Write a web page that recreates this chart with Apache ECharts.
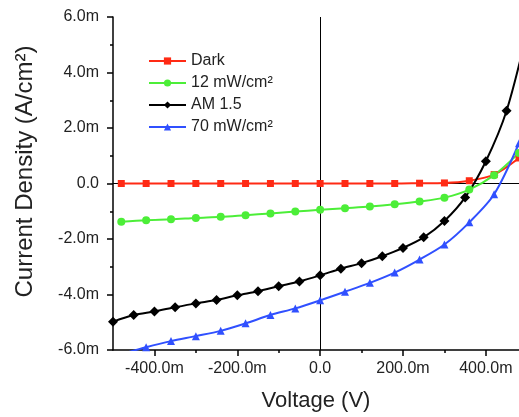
<!DOCTYPE html>
<html>
<head>
<meta charset="utf-8">
<script src="https://cdn.jsdelivr.net/npm/echarts@6/dist/echarts.min.js"></script>
<style>
  html, body { margin: 0; padding: 0; background: #fff; }
  #chart { width: 519px; height: 417px; }
</style>
</head>
<body>
<div id="chart"></div>
<script>
// voltage (V) for the 0.06 V sweeps (Dark, 12 mW, 70 mW)
var voltsA = [-0.48, -0.42, -0.36, -0.30, -0.24, -0.18, -0.12, -0.06, 0.00,
              0.06, 0.12, 0.18, 0.24, 0.30, 0.36, 0.42, 0.48];
// voltage (V) for the AM 1.5 sweep (0.05 V steps)
var voltsB = [-0.50, -0.45, -0.40, -0.35, -0.30, -0.25, -0.20, -0.15, -0.10, -0.05, 0.00,
              0.05, 0.10, 0.15, 0.20, 0.25, 0.30, 0.35, 0.40, 0.45, 0.50];

// current density in mA/cm2
var dark = [0, 0, 0, 0, 0, 0, 0, 0, 0, 0, 0, 0, 0.01, 0.02, 0.10, 0.32, 0.92];
var low12 = [-1.38, -1.32, -1.29, -1.24, -1.20, -1.14, -1.08, -1.01, -0.95,
             -0.89, -0.83, -0.75, -0.65, -0.51, -0.22, 0.30, 1.10];
var am15 = [-4.98, -4.74, -4.61, -4.46, -4.32, -4.20, -4.03, -3.88, -3.70, -3.53, -3.31,
            -3.07, -2.87, -2.62, -2.32, -1.94, -1.35, -0.50, 0.80, 2.62, 5.5];
var high70 = [-6.15, -5.90, -5.68, -5.50, -5.31, -5.04, -4.74, -4.50, -4.21,
              -3.90, -3.58, -3.21, -2.74, -2.20, -1.40, -0.39, 1.45];

var names = ['Dark', '12 mW/cm²', 'AM 1.5', '70 mW/cm²'];
var xMajor = [-0.4, -0.2, 0, 0.2, 0.4];
var xMinor = [-0.3, -0.1, 0.1, 0.3];

function pairs(xs, ys) {
    var out = [];
    for (var i = 0; i < xs.length; i++) out.push([xs[i], ys[i]]);
    return out;
}

var font = 'Liberation Sans, Arial, sans-serif';
var chart = echarts.init(document.getElementById('chart'));

function lineSeries(name, xs, ys, color, symbol, size) {
    return {
        name: name,
        type: 'line',
        xAxisIndex: 0,
        data: pairs(xs, ys),
        smooth: 0.3,
        symbol: symbol,
        symbolSize: size,
        showAllSymbol: true,
        clip: true,
        lineStyle: { color: color, width: 2 },
        itemStyle: { color: color },
        emphasis: { disabled: true },
        z: 3
    };
}

var series = [
    lineSeries(names[0], voltsA, dark, '#ff2a14', 'rect', 7),
    lineSeries(names[1], voltsA, low12, '#4cee38', 'circle', 8),
    lineSeries(names[2], voltsB, am15, '#000000', 'diamond', 10),
    lineSeries(names[3], voltsA, high70, '#3050ff', 'triangle', 8)
];
// zero lines
series[0].markLine = {
    silent: true,
    symbol: 'none',
    label: { show: false },
    lineStyle: { color: '#000', width: 1, type: 'solid' },
    data: [{ xAxis: 0 }, { yAxis: 0 }],
    z: 1
};

var option = {
    animation: false,
    backgroundColor: '#ffffff',
    textStyle: { fontFamily: font },
    grid: { left: 113, right: 0, top: 17, bottom: 65 },
    legend: {
        orient: 'vertical',
        left: 148,
        top: 53,
        padding: 0,
        itemWidth: 37,
        itemHeight: 9,
        itemGap: 6,
        data: names,
        textStyle: { fontSize: 16, color: '#222', fontFamily: font }
    },
    xAxis: [{
        type: 'value',
        min: -0.5,
        max: 0.48,
        name: 'Voltage (V)',
        nameLocation: 'middle',
        nameGap: 40,
        nameTextStyle: { fontSize: 22, color: '#222', fontFamily: font },
        splitLine: { show: false },
        axisLine: { onZero: false, lineStyle: { color: '#000', width: 1.5 } },
        axisTick: { customValues: xMajor, length: 6, lineStyle: { color: '#000', width: 1.5 } },
        axisLabel: {
            customValues: xMajor,
            margin: 11,
            fontSize: 16,
            color: '#222',
            formatter: function (v) {
                return v === 0 ? '0.0' : (v * 1000).toFixed(1) + 'm';
            }
        }
    }, {
        type: 'value',
        position: 'bottom',
        min: -0.5,
        max: 0.48,
        splitLine: { show: false },
        axisLine: { show: false, onZero: false },
        axisTick: { customValues: xMinor, length: 3, lineStyle: { color: '#000', width: 1.5 } },
        axisLabel: { show: false }
    }],
    yAxis: {
        type: 'value',
        min: -6,
        max: 6,
        interval: 2,
        name: 'Current Density (A/cm²)',
        nameLocation: 'middle',
        nameGap: 76,
        nameTextStyle: { fontSize: 24, color: '#222', fontFamily: font, padding: [0, 0, 0, 24] },
        splitLine: { show: false },
        axisLine: { show: true, onZero: false, lineStyle: { color: '#000', width: 1.5 } },
        axisTick: { length: 6, lineStyle: { color: '#000', width: 1.5 } },
        minorTick: { show: true, splitNumber: 2, length: 3, lineStyle: { color: '#000', width: 1.5 } },
        axisLabel: {
            margin: 14,
            fontSize: 16,
            color: '#222',
            formatter: function (v) {
                return v === 0 ? '0.0' : v.toFixed(1) + 'm';
            }
        }
    },
    series: series
};

chart.setOption(option);
</script>
</body>
</html>
